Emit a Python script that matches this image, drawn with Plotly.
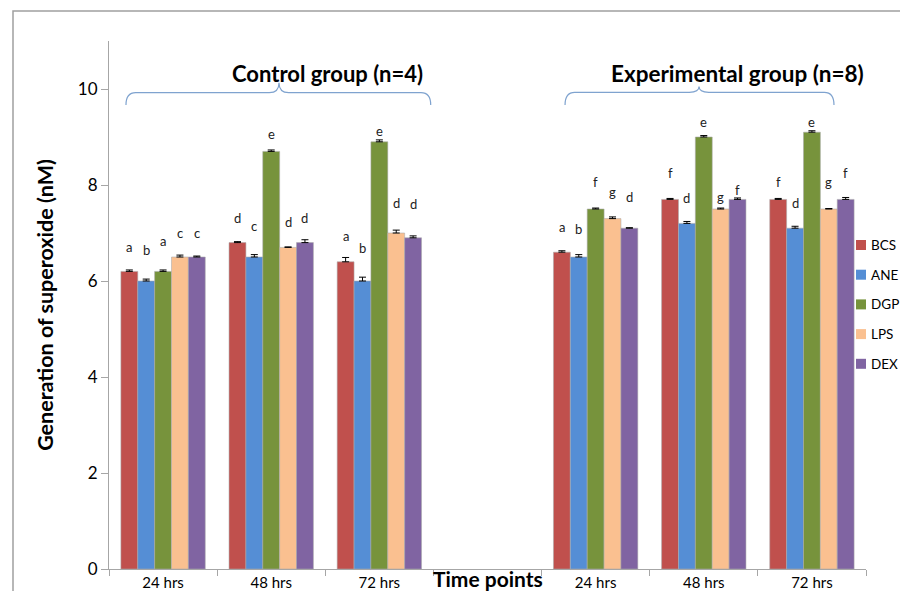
import plotly.graph_objects as go

# Time points: three per group, with an empty slot between the two groups
group_x = [0, 1, 2, 4, 5, 6]
tick_pos = [0, 1, 2, 4, 5, 6]
tick_labels = ["24 hrs", "48 hrs", "72 hrs", "24 hrs", "48 hrs", "72 hrs"]

series_names = ["BCS", "ANE", "DGP", "LPS", "DEX"]
series_colors = ["#C0504D", "#558ED5", "#77933C", "#FAC090", "#8064A2"]

# Superoxide generation (nM) per series across the six time points
bcs = [6.2, 6.8, 6.4, 6.6, 7.7, 7.7]
ane = [6.0, 6.5, 6.0, 6.5, 7.2, 7.1]
dgp = [6.2, 8.7, 8.9, 7.5, 9.0, 9.1]
lps = [6.5, 6.7, 7.0, 7.3, 7.5, 7.5]
dex = [6.5, 6.8, 6.9, 7.1, 7.7, 7.7]

bcs_err = [0.03, 0.02, 0.09, 0.03, 0.02, 0.02]
ane_err = [0.04, 0.05, 0.08, 0.05, 0.04, 0.04]
dgp_err = [0.03, 0.03, 0.04, 0.02, 0.03, 0.03]
lps_err = [0.04, 0.01, 0.06, 0.035, 0.02, 0.01]
dex_err = [0.02, 0.06, 0.04, 0.01, 0.03, 0.04]

# Significance letters per series and the height at which each sits
bcs_sig = ["a", "d", "a", "a", "f", "f"]
ane_sig = ["b", "c", "b", "b", "d", "d"]
dgp_sig = ["a", "e", "e", "f", "e", "e"]
lps_sig = ["c", "d", "d", "g", "g", "g"]
dex_sig = ["c", "d", "d", "d", "f", "f"]

bcs_sig_y = [6.71, 7.31, 6.94, 7.13, 8.26, 8.07]
ane_sig_y = [6.65, 7.15, 6.68, 7.09, 7.72, 7.62]
dgp_sig_y = [6.84, 9.06, 9.13, 8.07, 9.32, 9.31]
lps_sig_y = [7.00, 7.22, 7.62, 7.86, 7.74, 8.07]
dex_sig_y = [7.00, 7.32, 7.60, 7.76, 7.90, 8.26]

values = [bcs, ane, dgp, lps, dex]
errors = [bcs_err, ane_err, dgp_err, lps_err, dex_err]
sig_letters = [bcs_sig, ane_sig, dgp_sig, lps_sig, dex_sig]
sig_heights = [bcs_sig_y, ane_sig_y, dgp_sig_y, lps_sig_y, dex_sig_y]

FONT = "Lato, 'Open Sans', sans-serif"
W, H = 900, 591
M_L, M_R, M_T, M_B = 109, 34, 41, 22
PLOT_W, PLOT_H = W - M_L - M_R, H - M_T - M_B
BAR_GAP = 0.22
n_series = len(series_names)
bar_w = (1 - BAR_GAP) / n_series


def px_to_paper(px, py):
    return (px - M_L) / PLOT_W, (H - M_B - py) / PLOT_H


fig = go.Figure()
for i, name in enumerate(series_names):
    fig.add_trace(go.Bar(
        x=group_x, y=values[i], name=name, showlegend=False,
        marker=dict(color=series_colors[i],
                    line=dict(color="rgba(170,170,170,0.7)", width=0.8)),
        error_y=dict(type="data", array=errors[i], arrayminus=[0] * len(group_x),
                     symmetric=False, color="#000000", thickness=1, width=3.5),
    ))

annotations = []
for i in range(n_series):
    off = (i - (n_series - 1) / 2) * bar_w
    for gx, letter, ly in zip(group_x, sig_letters[i], sig_heights[i]):
        annotations.append(dict(
            x=gx + off, y=ly, xref="x", yref="y", text=letter, showarrow=False,
            font=dict(family=FONT, size=13, color="#222222"),
            xanchor="center", yanchor="middle"))

tp_x, tp_y = px_to_paper(489, 578)
annotations += [
    dict(x=1.525, y=10.33, xref="x", yref="y", text="<b>Control group (n=4)</b>",
         showarrow=False, font=dict(family=FONT, size=22, color="#000000")),
    dict(x=5.31, y=10.33, xref="x", yref="y", text="<b>Experimental group (n=8)</b>",
         showarrow=False, font=dict(family=FONT, size=22.5, color="#000000")),
    dict(x=3.0, y=tp_y, xref="x", yref="paper", text="<b>Time points</b>",
         showarrow=False, font=dict(family=FONT, size=21, color="#000000"),
         yanchor="middle"),
]


def brace(x0, xc, x1, y_end, y_mid, y_tip):
    d = 0.09
    return (f"M{x0},{y_end} Q{x0},{y_mid} {x0 + d},{y_mid} L{xc - d},{y_mid} "
            f"Q{xc},{y_mid} {xc},{y_tip} Q{xc},{y_mid} {xc + d},{y_mid} "
            f"L{x1 - d},{y_mid} Q{x1},{y_mid} {x1},{y_end}")


fx0, fy1 = px_to_paper(13, 11)
shapes = [
    dict(type="path", xref="x", yref="y",
         path=brace(-0.343, 1.072, 2.475, 9.667, 9.923, 10.13),
         line=dict(color="#7FA3CF", width=1.2)),
    dict(type="path", xref="x", yref="y",
         path=brace(3.717, 4.956, 6.204, 9.667, 9.93, 10.05),
         line=dict(color="#7FA3CF", width=1.2)),
    # chart frame
    dict(type="rect", xref="paper", yref="paper",
         x0=fx0, x1=1.3, y0=-0.3, y1=fy1,
         line=dict(color="#A0A0A0", width=1.5), layer="below"),
]

# Series key at the right edge: colour swatch followed by the series name
key_top, key_step, sw = 245, 29.7, 10
for i, name in enumerate(series_names):
    cy = key_top + i * key_step
    sx0, sy0 = px_to_paper(856, cy + sw / 2)
    sx1, sy1 = px_to_paper(856 + sw, cy - sw / 2)
    shapes.append(dict(type="rect", xref="paper", yref="paper",
                       x0=sx0, x1=sx1, y0=sy0, y1=sy1,
                       fillcolor=series_colors[i], line=dict(width=0)))
    tx, ty = px_to_paper(869, cy)
    annotations.append(dict(x=tx, y=ty, xref="paper", yref="paper", text=name,
                            showarrow=False, xanchor="left", yanchor="middle",
                            font=dict(family=FONT, size=13.5, color="#000000")))

fig.update_layout(
    width=W, height=H,
    margin=dict(l=M_L, r=M_R, t=M_T, b=M_B, autoexpand=False),
    paper_bgcolor="white", plot_bgcolor="white",
    barmode="group", bargap=BAR_GAP, bargroupgap=0,
    font=dict(family=FONT, size=15, color="#000000"),
    showlegend=False,
    annotations=annotations,
    shapes=shapes,
    xaxis=dict(range=[-0.5, 6.5], tickmode="array", tickvals=tick_pos,
               ticktext=tick_labels, ticks="", showline=True,
               linecolor="#A6A6A6", linewidth=1, showgrid=False, zeroline=False,
               tickfont=dict(family=FONT, size=15),
               minor=dict(tickmode="array", tickvals=[-0.5, 0.5, 1.5, 2.5, 3.5, 4.5, 5.5, 6.5],
                          ticks="outside", ticklen=6, tickcolor="#A6A6A6", showgrid=False)),
    yaxis=dict(range=[0, 11], tickvals=[0, 2, 4, 6, 8, 10], ticks="outside",
               ticklen=7, tickcolor="#A6A6A6", showline=True, linecolor="#A6A6A6",
               linewidth=1, showgrid=False, zeroline=False,
               tickfont=dict(family=FONT, size=17),
               title=dict(text="<b>Generation of superoxide (nM)</b>", standoff=18,
                          font=dict(family=FONT, size=21.5))),
)

fig.write_html("out.html")
